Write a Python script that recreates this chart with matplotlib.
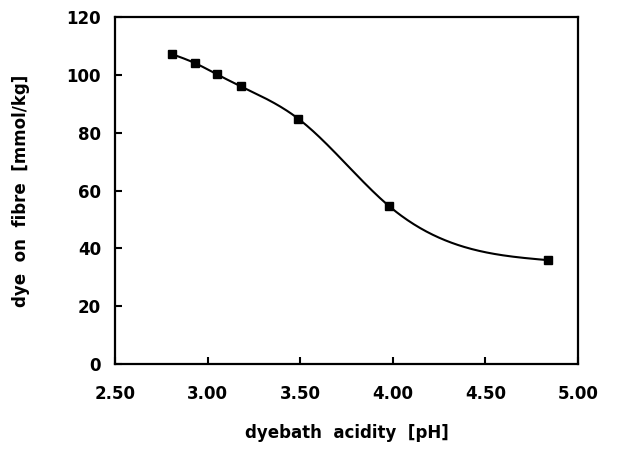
import matplotlib
matplotlib.use("Agg")
import matplotlib.pyplot as plt
import numpy as np

# data
ph = [2.81, 2.93, 3.05, 3.18, 3.49, 3.98, 4.84]
dye = [107.1, 104.1, 100.2, 96.0, 84.8, 54.6, 35.9]

xticks = [2.5, 3.0, 3.5, 4.0, 4.5, 5.0]
yticks = [0, 20, 40, 60, 80, 100, 120]


def natural_spline(x, y, xs):
    # plain natural cubic spline for the smooth guide line
    x = np.asarray(x, float)
    y = np.asarray(y, float)
    n = len(x)
    h = np.diff(x)
    A = np.zeros((n, n))
    b = np.zeros(n)
    A[0, 0] = A[-1, -1] = 1
    for i in range(1, n - 1):
        A[i, i - 1] = h[i - 1]
        A[i, i] = 2 * (h[i - 1] + h[i])
        A[i, i + 1] = h[i]
        b[i] = 6 * ((y[i + 1] - y[i]) / h[i] - (y[i] - y[i - 1]) / h[i - 1])
    m = np.linalg.solve(A, b)
    out = np.empty_like(xs)
    for k, xv in enumerate(xs):
        i = min(max(np.searchsorted(x, xv) - 1, 0), n - 2)
        t0 = x[i + 1] - xv
        t1 = xv - x[i]
        out[k] = (m[i] * t0**3 + m[i + 1] * t1**3) / (6 * h[i]) \
            + (y[i] / h[i] - m[i] * h[i] / 6) * t0 \
            + (y[i + 1] / h[i] - m[i + 1] * h[i] / 6) * t1
    return out


fig = plt.figure(figsize=(6.17, 4.57), dpi=100)
ax = fig.add_axes([115 / 617, 1 - 364 / 457, 463 / 617, 347 / 457])

xs = np.linspace(ph[0], ph[-1], 300)
ax.plot(xs, natural_spline(ph, dye, xs), color="black", lw=1.5)
ax.plot(ph, dye, "s", color="black", ms=5.5)

ax.set_xlim(2.5, 5.0)
ax.set_ylim(0, 120)
ax.set_xticks(xticks)
ax.set_yticks(yticks)
ax.set_xticklabels(["%.2f" % v for v in xticks])
ax.tick_params(direction="in", length=5, width=1.5, top=False, right=False)
ax.tick_params(axis="x", pad=15)
ax.tick_params(axis="y", pad=10)
for lab in ax.get_xticklabels() + ax.get_yticklabels():
    lab.set_fontsize(12)
    lab.set_fontweight("bold")
for s in ax.spines.values():
    s.set_linewidth(1.6)

ax.set_xlabel("dyebath  acidity  [pH]", fontsize=12, fontweight="bold", labelpad=15)
ax.set_ylabel("dye  on  fibre  [mmol/kg]", fontsize=12, fontweight="bold", labelpad=26)

fig.savefig("out.png", dpi=100)
